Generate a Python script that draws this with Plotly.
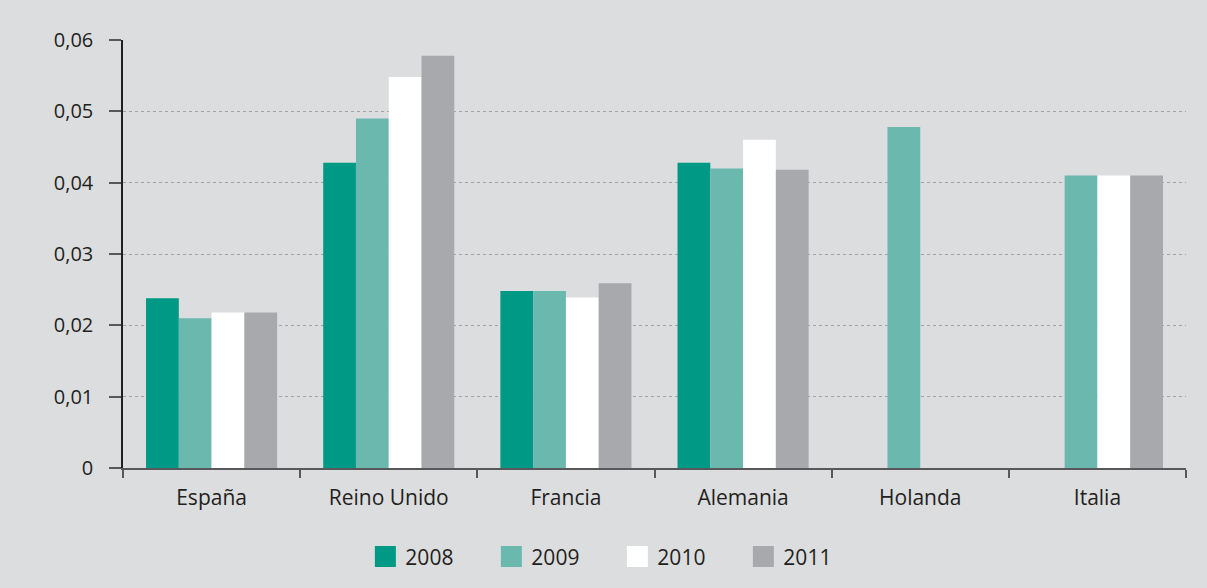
import plotly.graph_objects as go

countries = ["España", "Reino Unido", "Francia", "Alemania", "Holanda", "Italia"]
years = ["2008", "2009", "2010", "2011"]
v2008 = [0.0238, 0.0428, 0.0248, 0.0428, None, None]
v2009 = [0.0210, 0.0490, 0.0248, 0.0420, 0.0478, 0.0410]
v2010 = [0.0218, 0.0548, 0.0239, 0.0460, None, 0.0410]
v2011 = [0.0218, 0.0578, 0.0259, 0.0418, None, 0.0410]
series = [v2008, v2009, v2010, v2011]
colors = ["#009985", "#6bb8ae", "#ffffff", "#a8a9ac"]

y_ticks = [0, 0.01, 0.02, 0.03, 0.04, 0.05, 0.06]
y_ticktext = ["0", "0,01", "0,02", "0,03", "0,04", "0,05", "0,06"]

FONT = "Open Sans"
TXT = "#231f20"

fig = go.Figure()
for name, vals, col in zip(years, series, colors):
    fig.add_trace(go.Bar(x=countries, y=vals, name=name, marker=dict(color=col, line=dict(width=0)),
                         showlegend=False))
# legend swatches
for name, col in zip(years, colors):
    fig.add_trace(go.Scatter(x=[None], y=[None], mode="markers", name=name,
                             marker=dict(symbol="square", size=16, color=col,
                                         line=dict(color=col, width=5)),
                             showlegend=True))

fig.update_layout(
    width=1207, height=588,
    paper_bgcolor="#dcdddf", plot_bgcolor="#dcdddf",
    margin=dict(l=123, r=21, t=40, b=119),
    barmode="group", bargap=0.26, bargroupgap=0,
    font=dict(family=FONT, size=20, color=TXT),
    legend=dict(orientation="h", x=0.228, xanchor="left", y=-0.205, yanchor="middle",
                entrywidth=81, entrywidthmode="pixels", bgcolor="rgba(0,0,0,0)",
                font=dict(family=FONT, size=21, color=TXT), itemsizing="trace"),
)
fig.update_xaxes(type="category", range=[-0.5, 5.5], showline=True, linecolor="#58585a", linewidth=2,
                 ticks="outside", tickson="boundaries", ticklen=8, tickcolor="#58585a", tickwidth=1.5,
                 showgrid=False, tickfont=dict(family=FONT, size=21, color=TXT), ticklabelstandoff=10)
fig.update_yaxes(range=[0, 0.06], tickvals=y_ticks, ticktext=y_ticktext, showline=True,
                 linecolor="#231f20", linewidth=1.5, ticks="outside", ticklen=12, tickcolor="#58585a",
                 tickwidth=2, showgrid=True, gridcolor="#a3a3a5", gridwidth=1, griddash="dot",
                 zeroline=False, tickfont=dict(family=FONT, size=20, color=TXT), ticklabelstandoff=12)

fig.write_html("out.html", config={"displayModeBar": False},
               post_script="document.body.style.margin='0';")
